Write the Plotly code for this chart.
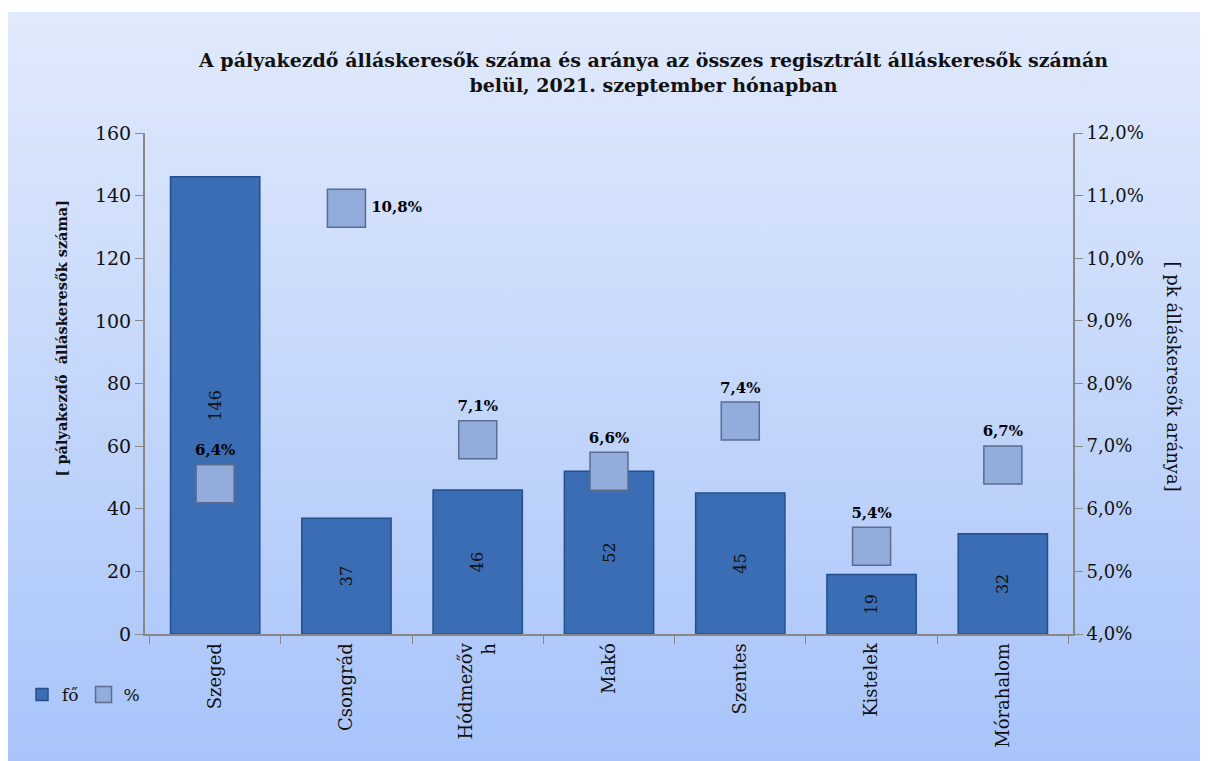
import base64
import plotly.graph_objects as go

# adatok
varosok = ["Szeged", "Csongrád", "Hódmezőv<br>h", "Makó", "Szentes", "Kistelek", "Mórahalom"]
fo = [146, 37, 46, 52, 45, 19, 32]
arany = [6.4, 10.8, 7.1, 6.6, 7.4, 5.4, 6.7]
arany_cimke = ["6,4%", "10,8%", "7,1%", "6,6%", "7,4%", "5,4%", "6,7%"]
cimke_hely = ["top center", "middle right", "top center", "top center", "top center", "top center", "top center"]

FONT = "DejaVu Serif"

# the page has an 8px body margin, so the figure is 8px smaller than the window
OFF = 8
W, H = 1208 - OFF, 761 - OFF
# plot area in page pixels
L, R, T, B = 145, 1073, 133, 634
pw, ph = R - L, B - T


def px_x(x):
    return (x - L) / pw


def px_y(y):
    return (B - y) / ph


# halvanykék színátmenetes háttér (svg data uri)
svg = (
    '<svg xmlns="http://www.w3.org/2000/svg" width="100" height="100" preserveAspectRatio="none">'
    '<defs><linearGradient id="g" x1="0" y1="0" x2="0" y2="1">'
    '<stop offset="0" stop-color="#e1eafc"/><stop offset="1" stop-color="#a8c4fa"/>'
    '</linearGradient></defs><rect width="100" height="100" fill="url(#g)"/></svg>'
)
bg_src = "data:image/svg+xml;base64," + base64.b64encode(svg.encode()).decode()

fig = go.Figure()

fig.add_trace(go.Bar(
    x=varosok, y=fo, name="fő",
    marker=dict(color="#3a6db3", line=dict(color="#244f8c", width=1.5)),
    width=0.68,
    text=[str(v) for v in fo], textposition="inside", textangle=-90,
    insidetextanchor="middle",
    textfont=dict(family=FONT, size=16, color="#111111"),
))

fig.add_trace(go.Scatter(
    x=varosok, y=arany, name="%", yaxis="y2", mode="markers+text",
    marker=dict(symbol="square", size=38, color="#92acdc", line=dict(color="#5b6c8e", width=1.5)),
    text=arany_cimke, textposition=cimke_hely,
    textfont=dict(family=FONT, size=15, color="#000000", weight="bold"),
    cliponaxis=False,
))

fig.update_layout(
    width=W, height=H,
    margin=dict(l=L - OFF, r=W - (R - OFF), t=T - OFF, b=H - (B - OFF)),
    paper_bgcolor="white",
    plot_bgcolor="#e8edf6",
    separators=",.",
    font=dict(family=FONT, size=17, color="#111111"),
    showlegend=True,
    legend=dict(orientation="h", x=px_x(22), y=px_y(695), xanchor="left", yanchor="middle",
                bgcolor="rgba(0,0,0,0)", font=dict(size=17), itemwidth=30, tracegroupgap=0),
    xaxis=dict(
        tickangle=-90, showline=True, linecolor="#888888", linewidth=2,
        ticks="outside", tickson="boundaries", ticklen=8, tickcolor="#888888",
        showgrid=False, tickfont=dict(size=18),
    ),
    yaxis=dict(
        range=[0, 160], dtick=20, showline=True, linecolor="#888888", linewidth=2,
        ticks="outside", ticklen=8, tickcolor="#888888", showgrid=False, zeroline=False,
        tickfont=dict(size=19),
    ),
    yaxis2=dict(
        range=[4, 12], dtick=1, overlaying="y", side="right", ticksuffix="%", tickformat=".1f",
        showline=True, linecolor="#888888", linewidth=2, ticks="outside", ticklen=8,
        tickcolor="#888888", showgrid=False, zeroline=False, tickfont=dict(size=18),
    ),
    images=[dict(
        source=bg_src, xref="paper", yref="paper",
        x=px_x(5), y=px_y(12), sizex=(1208 - 5) / pw, sizey=(761 - 12) / ph,
        xanchor="left", yanchor="top", sizing="stretch", layer="below",
    )],
    annotations=[
        dict(text="<b>A pályakezdő álláskeresők száma és aránya az összes regisztrált álláskeresők számán<br>belül, 2021. szeptember hónapban</b>",
             xref="paper", yref="paper", x=px_x(653), y=px_y(73), showarrow=False,
             font=dict(size=19), xanchor="center", yanchor="middle"),
        dict(text="<b>[ pályakezdő  álláskeresők száma]</b>", xref="paper", yref="paper",
             x=px_x(50), y=px_y(338), textangle=-90, showarrow=False, font=dict(size=14.5)),
        dict(text="[ pk álláskeresők aránya]", xref="paper", yref="paper",
             x=px_x(1186), y=px_y(376), textangle=90, showarrow=False, font=dict(size=18)),
    ],
)

fig.write_html("out.html")
